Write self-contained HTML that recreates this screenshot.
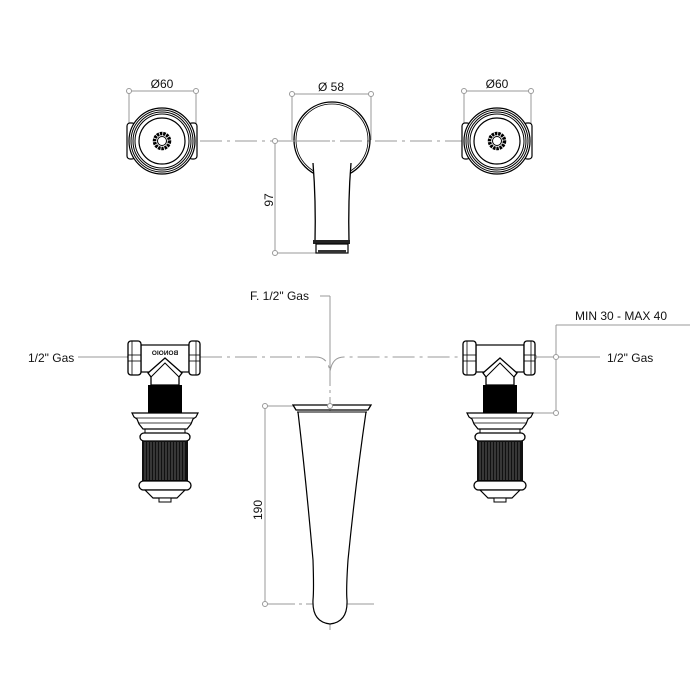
<!DOCTYPE html>
<html><head><meta charset="utf-8"><style>
html,body{margin:0;padding:0;background:#fff;}
svg{display:block;}
text{font-family:"Liberation Sans",sans-serif;fill:#111;}
</style></head><body>
<svg width="700" height="700" viewBox="0 0 700 700" xmlns="http://www.w3.org/2000/svg">
<defs>
<g id="handle">
  <rect x="-35" y="-18" width="8" height="36" rx="3" fill="#fff" stroke="#000" stroke-width="1.2"/>
  <rect x="27" y="-18" width="8" height="36" rx="3" fill="#fff" stroke="#000" stroke-width="1.2"/>
  <circle r="33" fill="#fff" stroke="#000" stroke-width="1.2"/>
  <circle r="31" fill="none" stroke="#000" stroke-width="1"/>
  <circle r="29" fill="none" stroke="#000" stroke-width="1"/>
  <circle r="27" fill="none" stroke="#000" stroke-width="1"/>
  <circle r="23" fill="none" stroke="#000" stroke-width="1.2"/>
  <circle r="7.5" fill="none" stroke="#000" stroke-width="3.5" stroke-dasharray="2.5 0.8"/>
  <circle r="4.5" fill="none" stroke="#000" stroke-width="1"/>
</g>
<g id="valve">
  <rect x="-24" y="-12" width="48" height="27" fill="#fff" stroke="#000" stroke-width="1.2"/>
  <rect x="-37" y="-16" width="13" height="34" rx="3" fill="#fff" stroke="#000" stroke-width="1.3"/>
  <line x1="-33" y1="-16" x2="-33" y2="18" stroke="#000" stroke-width="0.8"/>
  <line x1="-37" y1="-2" x2="-24" y2="-2" stroke="#000" stroke-width="0.8"/>
  <line x1="-37" y1="4" x2="-24" y2="4" stroke="#000" stroke-width="0.8"/>
  <rect x="24" y="-16" width="11" height="34" rx="3" fill="#fff" stroke="#000" stroke-width="1.3"/>
  <line x1="31" y1="-16" x2="31" y2="18" stroke="#000" stroke-width="0.8"/>
  <line x1="24" y1="-2" x2="35" y2="-2" stroke="#000" stroke-width="0.8"/>
  <line x1="24" y1="4" x2="35" y2="4" stroke="#000" stroke-width="0.8"/>
  <path d="M-17 16 L0 1 L17 16 L14 20 L14 28 L-14 28 L-14 20 Z" fill="#fff" stroke="#000" stroke-width="1.3"/>
  <path d="M-14 20 L0 6 L14 20" fill="none" stroke="#000" stroke-width="1"/>
  <rect x="-17" y="28" width="34" height="28" fill="#000"/>
  <path d="M-33 56 L33 56 L31 60 L28 62 L26 67 L22 72 L-22 72 L-26 67 L-28 62 L-31 60 Z" fill="#fff" stroke="#000" stroke-width="1.2"/>
  <line x1="-29" y1="61" x2="29" y2="61" stroke="#000" stroke-width="0.8"/>
  <line x1="-26" y1="66" x2="26" y2="66" stroke="#000" stroke-width="0.8"/>
  <rect x="-25" y="76" width="50" height="8" rx="4" fill="#fff" stroke="#000" stroke-width="1.3"/>
  <line x1="-20" y1="72" x2="-20" y2="76" stroke="#000"/>
  <line x1="20" y1="72" x2="20" y2="76" stroke="#000"/>
  <rect x="-23" y="84" width="46" height="40" fill="#111"/>
  <g stroke="#aaa" stroke-width="0.5">
    <line x1="-20" y1="85" x2="-20" y2="123"/><line x1="-17" y1="85" x2="-17" y2="123"/>
    <line x1="-14" y1="85" x2="-14" y2="123"/><line x1="-11" y1="85" x2="-11" y2="123"/>
    <line x1="-8" y1="85" x2="-8" y2="123"/><line x1="-5" y1="85" x2="-5" y2="123"/>
    <line x1="-2" y1="85" x2="-2" y2="123"/><line x1="1" y1="85" x2="1" y2="123"/>
    <line x1="4" y1="85" x2="4" y2="123"/><line x1="7" y1="85" x2="7" y2="123"/>
    <line x1="10" y1="85" x2="10" y2="123"/><line x1="13" y1="85" x2="13" y2="123"/>
    <line x1="16" y1="85" x2="16" y2="123"/><line x1="19" y1="85" x2="19" y2="123"/>
  </g>
  <rect x="-26" y="124" width="52" height="9" rx="4.5" fill="#fff" stroke="#000" stroke-width="1.3"/>
  <path d="M-20 133 L20 133 L12 141 L-12 141 Z" fill="#fff" stroke="#000" stroke-width="1.2"/>
  <rect x="-6" y="141" width="12" height="4" fill="#fff" stroke="#000" stroke-width="1"/>
</g>
</defs>

<g stroke="#999" stroke-width="1" fill="none">
  <line x1="200" y1="141" x2="470" y2="141" stroke-dasharray="22 5 3 5"/>
  <line x1="129" y1="91" x2="196" y2="91"/>
  <line x1="129" y1="91" x2="129" y2="125"/><line x1="196" y1="91" x2="196" y2="125"/>
  <line x1="464" y1="91" x2="531" y2="91"/>
  <line x1="464" y1="91" x2="464" y2="125"/><line x1="531" y1="91" x2="531" y2="125"/>
  <line x1="292" y1="94" x2="371" y2="94"/>
  <line x1="292" y1="94" x2="292" y2="140"/><line x1="371" y1="94" x2="371" y2="140"/>
  <line x1="275" y1="141" x2="275" y2="253"/>
  <line x1="275" y1="253" x2="318" y2="253"/>
  <line x1="78" y1="357" x2="128" y2="357"/>
  <path d="M200 357 L316 357 Q328 357 330 372 Q332 357 344 357 L460 357" stroke-dasharray="22 5 3 5"/>
  <line x1="534" y1="357" x2="600" y2="357"/>
  <line x1="320" y1="296" x2="330" y2="296"/>
  <line x1="330" y1="296" x2="330" y2="372"/>
  <line x1="330" y1="372" x2="330" y2="630" stroke-dasharray="14 4 3 4"/>
  <line x1="265" y1="406" x2="265" y2="604"/>
  <line x1="265" y1="406" x2="294" y2="406"/>
  <line x1="265" y1="604" x2="374" y2="604" stroke-dasharray="30 4 3 4"/>
  <line x1="556" y1="325" x2="690" y2="325"/>
  <line x1="556" y1="325" x2="556" y2="413"/>
  <line x1="530" y1="413" x2="556" y2="413"/>
</g>

<use href="#handle" x="162" y="141"/>
<use href="#handle" x="497" y="141"/>

<!-- top spout -->
<circle cx="332" cy="140" r="38" fill="none" stroke="#000" stroke-width="1.3"/>
<circle cx="332" cy="140" r="36" fill="none" stroke="#000" stroke-width="0.8"/>
<line x1="275" y1="141" x2="330" y2="141" stroke="#999"/>
<path d="M313.5 163 L350.5 163 Q348 200 349 242 L315 242 Q316 200 313.5 163 Z" fill="#fff" stroke="none"/>
<path d="M313 163 Q316 200 315 242 L349 242 Q348 200 351 163" fill="none" stroke="#000" stroke-width="1.3"/>
<rect x="313" y="240" width="37" height="4" fill="#222"/>
<rect x="316" y="244" width="32" height="9" fill="#fff" stroke="#000" stroke-width="1.2"/>
<rect x="318" y="250" width="28" height="3" fill="#333"/>

<g fill="#fff" stroke="#999" stroke-width="1">
  <circle cx="129" cy="91" r="2.5"/><circle cx="196" cy="91" r="2.5"/>
  <circle cx="464" cy="91" r="2.5"/><circle cx="531" cy="91" r="2.5"/>
  <circle cx="292" cy="94" r="2.5"/><circle cx="371" cy="94" r="2.5"/>
  <circle cx="275" cy="141" r="2.5"/><circle cx="275" cy="253" r="2.5"/>
  <circle cx="265" cy="406" r="2.5"/><circle cx="265" cy="604" r="2.5"/>
  <circle cx="556" cy="357" r="2.5"/><circle cx="556" cy="413" r="2.5"/>
  <circle cx="534" cy="357" r="2.5"/><circle cx="130" cy="357" r="2.5"/>
</g>

<use href="#valve" x="165" y="357"/>
<use href="#valve" x="500" y="357"/>
<text x="165" y="355" font-size="6.5" font-weight="bold" text-anchor="middle" transform="translate(330 0) scale(-1 1)">BONOIO</text>

<!-- bottom spout -->
<path d="M293 405 L371 405 L368 410 L296 410 Z" fill="#fff" stroke="#000" stroke-width="1.3"/>
<path d="M298 412 Q306 480 313 560 Q314 590 313 600 Q312 622 330 624 Q348 622 347 600 Q346 590 348 560 Q356 480 366 412" fill="#fff" stroke="#000" stroke-width="1.2"/>
<line x1="297" y1="412" x2="367" y2="412" stroke="#000" stroke-width="1"/>
<circle cx="330" cy="406" r="2.5" fill="#fff" stroke="#999"/>

<text x="162" y="88" font-size="12" text-anchor="middle">Ø60</text>
<text x="497" y="88" font-size="12" text-anchor="middle">Ø60</text>
<text x="331" y="91" font-size="12" text-anchor="middle">Ø 58</text>
<text transform="translate(273 200) rotate(-90)" font-size="12" text-anchor="middle">97</text>
<text transform="translate(262 510) rotate(-90)" font-size="12" text-anchor="middle">190</text>
<text x="250" y="300" font-size="12">F. 1/2" Gas</text>
<text x="28" y="362" font-size="12">1/2" Gas</text>
<text x="607" y="362" font-size="12">1/2" Gas</text>
<text x="575" y="320" font-size="12">MIN 30 - MAX 40</text>
</svg>
</body></html>
